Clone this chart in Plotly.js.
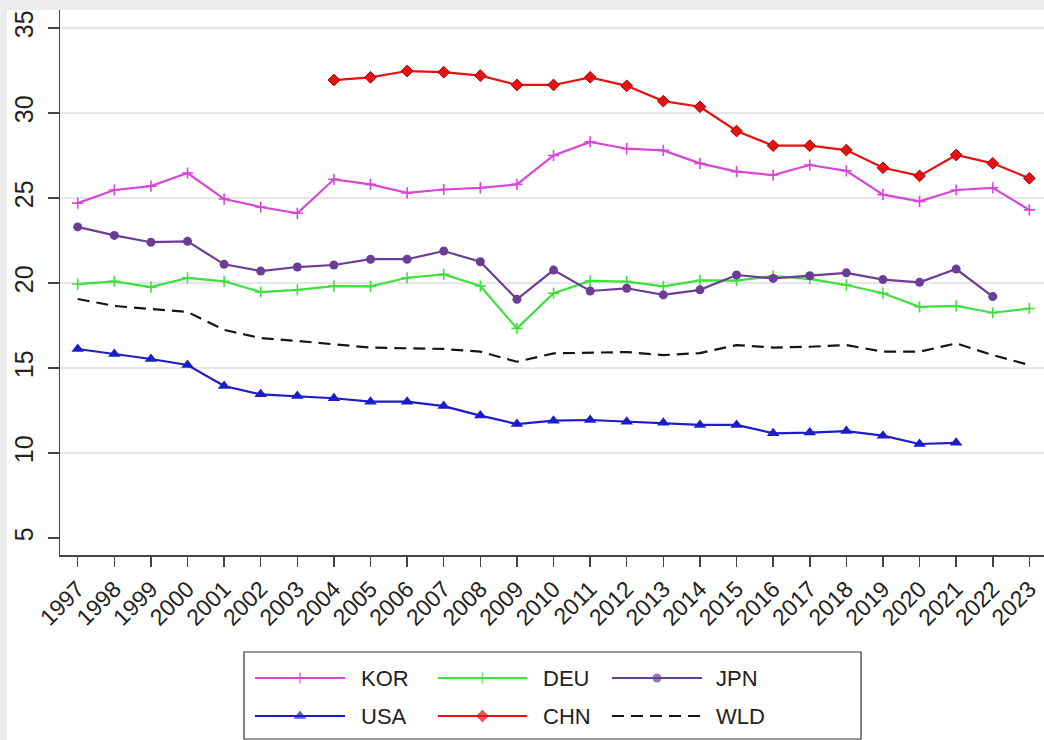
<!DOCTYPE html>
<html>
<head>
<meta charset="utf-8">
<script src="https://cdn.plot.ly/plotly-3.0.1.min.js"></script>
<style>html,body{margin:0;padding:0;background:#ececec;}#chart{width:1044px;height:740px;}</style>
</head>
<body>
<div id="chart"></div>
<script>
// ---- data ----
const years = [1997,1998,1999,2000,2001,2002,2003,2004,2005,2006,2007,2008,2009,2010,2011,2012,2013,2014,2015,2016,2017,2018,2019,2020,2021,2022,2023];
const KOR = [24.7,25.47,25.7,26.47,24.94,24.47,24.1,26.1,25.8,25.3,25.5,25.6,25.8,27.5,28.3,27.9,27.8,27.04,26.55,26.35,26.94,26.6,25.2,24.8,25.47,25.6,24.3];
const DEU = [19.94,20.1,19.76,20.3,20.1,19.47,19.6,19.82,19.8,20.31,20.51,19.82,17.33,19.4,20.12,20.08,19.8,20.15,20.14,20.41,20.24,19.88,19.4,18.6,18.65,18.25,18.5];
const JPN = [23.3,22.8,22.4,22.45,21.1,20.7,20.94,21.06,21.4,21.4,21.88,21.25,19.04,20.76,19.53,19.69,19.3,19.6,20.47,20.27,20.43,20.6,20.2,20.04,20.82,19.2,null];
const USA = [16.12,15.82,15.53,15.18,13.94,13.45,13.35,13.22,13.02,13.02,12.76,12.2,11.7,11.9,11.94,11.84,11.78,11.65,11.65,11.16,11.2,11.29,11.02,10.53,10.6,null,null];
const CHN = [null,null,null,null,null,null,null,31.94,32.1,32.47,32.4,32.2,31.65,31.65,32.1,31.6,30.7,30.37,28.94,28.08,28.08,27.82,26.78,26.3,27.53,27.04,26.16];
const WLD = [19.06,18.65,18.47,18.3,17.24,16.76,16.59,16.4,16.2,16.16,16.12,15.96,15.37,15.86,15.92,15.94,15.76,15.88,16.35,16.2,16.25,16.35,15.96,15.96,16.45,15.76,15.18];
const yTicks = [5,10,15,20,25,30,35];
const gridVals = [10,15,20,25,30,35];
const seriesNames = ['KOR','DEU','JPN','USA','CHN','WLD'];

// ---- styles ----
const FONT = 'Liberation Sans, Arial, sans-serif';
const styles = {
  KOR: {color:'#d846d8', symbol:'cross-thin-open', size:8, mlw:1.6, dash:'solid'},
  DEU: {color:'#3ee03e', symbol:'cross-thin-open', size:8, mlw:1.6, dash:'solid'},
  JPN: {color:'#6c3d94', symbol:'circle', size:9, mlw:0, dash:'solid'},
  USA: {color:'#1c1cc8', symbol:'triangle-up', size:11, mlw:0, dash:'solid'},
  CHN: {color:'#e81010', symbol:'diamond', size:9, mlw:1, mlc:'#a00000', dash:'solid'},
  WLD: {color:'#151515', symbol:'circle', size:0, mlw:0, dash:'12px,7px'}
};
const dataMap = {KOR, DEU, JPN, USA, CHN, WLD};
const drawOrder = ['WLD','USA','DEU','JPN','KOR','CHN'];

const traces = [];
drawOrder.forEach(n => {
  const s = styles[n];
  traces.push({
    x: years, y: dataMap[n], type:'scatter', mode: n==='WLD' ? 'lines' : 'lines+markers',
    name:n, showlegend:false, hoverinfo:'skip',
    line:{color:s.color, width:2.2, dash:s.dash},
    marker:{symbol:s.symbol, size:s.size, color:s.color, line:{width:s.mlw, color:s.mlc || s.color}},
    xaxis:'x', yaxis:'y'
  });
});

// ---- custom legend (pixel layout on hidden axes) ----
const legendRows = [678, 716];
const legendCols = [{x0:255, x1:345, tx:359},{x0:438, x1:527, tx:541},{x0:612, x1:702, tx:714}];
const legendOrder = ['KOR','DEU','JPN','USA','CHN','WLD'];
const annotations = [];
const shapes = [];
legendOrder.forEach((n, i) => {
  const r = legendRows[Math.floor(i/3)], c = legendCols[i%3];
  const s = styles[n];
  const xm = (c.x0 + c.x1)/2;
  traces.push({
    x:[c.x0, xm, c.x1], y:[r, r, r], type:'scatter', mode: n==='WLD' ? 'lines' : 'lines+markers',
    showlegend:false, hoverinfo:'skip', cliponaxis:false,
    line:{color:s.color, width:2.2, dash:s.dash},
    marker:{symbol:s.symbol, size:[0, s.size, 0], color:s.color, line:{width:s.mlw, color:s.mlc || s.color}},
    xaxis:'x2', yaxis:'y2'
  });
  annotations.push({xref:'x2', yref:'y2', x:c.tx, y:r, text:n, showarrow:false, xanchor:'left', yanchor:'middle',
    font:{family:FONT, size:22, color:'#222'}});
});
// legend box
shapes.push({type:'rect', xref:'x2', yref:'y2', x0:244, x1:861, y0:652, y1:739, line:{color:'#333', width:1.2}, fillcolor:'rgba(0,0,0,0)', layer:'below'});
// white canvas region over grey page border
shapes.push({type:'rect', xref:'paper', yref:'paper', x0:(7-60)/984, x1:1.01, y0:-0.01, y1:1, line:{width:0}, fillcolor:'#ffffff', layer:'below'});
// horizontal grid lines
gridVals.forEach(v => shapes.push({type:'line', xref:'paper', yref:'y', x0:0, x1:1, y0:v, y1:v, line:{color:'#e6e6e6', width:2}, layer:'below'}));

const yMainBottom = (740-555)/730;

const layout = {
  width:1044, height:740,
  margin:{l:60, r:0, t:10, b:0},
  paper_bgcolor:'#ececec', plot_bgcolor:'rgba(0,0,0,0)',
  showlegend:false,
  font:{family:FONT, color:'#222'},
  xaxis:{domain:[0,1], anchor:'y', range:[1996.516, 2023.40], tickmode:'array', tickvals:years, ticktext:years.map(String),
    tickangle:-45, tickfont:{size:23, family:FONT, color:'#222'}, ticks:'outside', ticklen:10, tickwidth:1.5, tickcolor:'#444',
    showline:true, linecolor:'#444', linewidth:1.5, showgrid:false, zeroline:false, fixedrange:true},
  yaxis:{domain:[yMainBottom,1], anchor:'x', range:[4, 36.06], tickmode:'array', tickvals:yTicks, ticktext:yTicks.map(String),
    tickangle:-90, tickfont:{size:25, family:FONT, color:'#222'}, ticks:'outside', ticklen:11, tickwidth:1.5, tickcolor:'#444',
    showline:true, linecolor:'#444', linewidth:1.5, showgrid:false, zeroline:false, fixedrange:true, ticklabelstandoff:5},
  xaxis2:{domain:[0,1], anchor:'y2', range:[60,1044], visible:false, fixedrange:true},
  yaxis2:{domain:[0,yMainBottom], anchor:'x2', range:[740,555], visible:false, fixedrange:true},
  shapes:shapes, annotations:annotations
};

Plotly.newPlot('chart', traces, layout, {staticPlot:true, displayModeBar:false});
</script>
</body>
</html>
